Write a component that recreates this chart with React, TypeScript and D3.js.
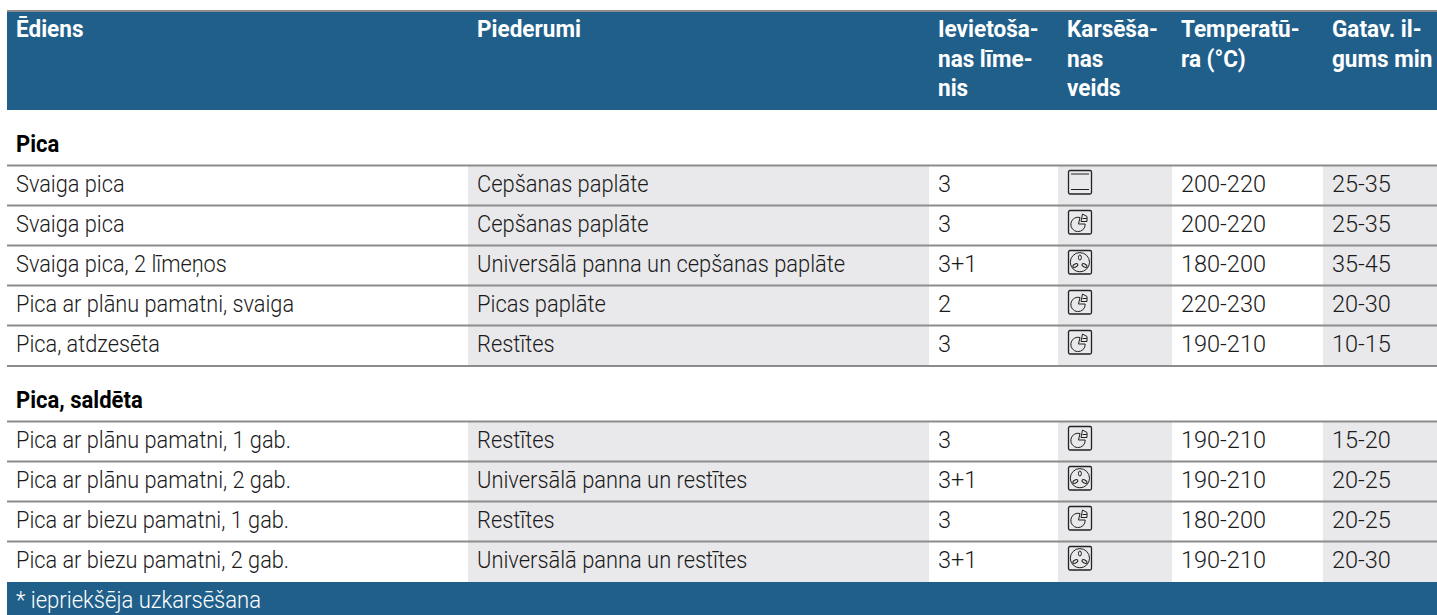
import React from "react";
import * as d3 from "d3";

const WIDTH = 1437;
const HEIGHT = 615;
const BLUE = "#215f8b";
const GREY = "#e9e9eb";
const RULE = "#8c8c8c";
const FONT = "Roboto, 'Liberation Sans', sans-serif";

const columns = ["dish", "accessory", "level", "mode", "temp", "time"];
const columnHeaders = [
  ["Ēdiens"],
  ["Piederumi"],
  ["Ievietoša-", "nas līme-", "nis"],
  ["Karsēša-", "nas", "veids"],
  ["Temperatū-", "ra (°C)"],
  ["Gatav. il-", "gums min"],
];

const group1Title = "Pica";
const group1Dishes = [
  "Svaiga pica",
  "Svaiga pica",
  "Svaiga pica, 2 līmeņos",
  "Pica ar plānu pamatni, svaiga",
  "Pica, atdzesēta",
];
const group1Accessories = [
  "Cepšanas paplāte",
  "Cepšanas paplāte",
  "Universālā panna un cepšanas paplāte",
  "Picas paplāte",
  "Restītes",
];
const group1Levels = ["3", "3", "3+1", "2", "3"];
const group1Modes = ["bottom", "pizza", "fan", "pizza", "pizza"];
const group1Temps = ["200-220", "200-220", "180-200", "220-230", "190-210"];
const group1Times = ["25-35", "25-35", "35-45", "20-30", "10-15"];

const group2Title = "Pica, saldēta";
const group2Dishes = [
  "Pica ar plānu pamatni, 1 gab.",
  "Pica ar plānu pamatni, 2 gab.",
  "Pica ar biezu pamatni, 1 gab.",
  "Pica ar biezu pamatni, 2 gab.",
];
const group2Accessories = [
  "Restītes",
  "Universālā panna un restītes",
  "Restītes",
  "Universālā panna un restītes",
];
const group2Levels = ["3", "3+1", "3", "3+1"];
const group2Modes = ["pizza", "fan", "pizza", "fan"];
const group2Temps = ["190-210", "190-210", "180-200", "190-210"];
const group2Times = ["15-20", "20-25", "20-25", "20-30"];

const footnote = "* iepriekšēja uzkarsēšana";

// left edge of each column, last one is the page edge
const colEdge = d3
  .scaleOrdinal<string, number>()
  .domain(columns)
  .range([7, 468, 929, 1058, 1172, 1323]);
const colRight = d3
  .scaleOrdinal<string, number>()
  .domain(columns)
  .range([468, 929, 1058, 1172, 1323, 1437]);

const rows1 = d3.scaleBand<number>().domain(d3.range(5)).range([166, 366]);
const rows2 = d3.scaleBand<number>().domain(d3.range(4)).range([422, 582]);

// no condensed font here, so text gets squeezed horizontally
const Label = ({
  x,
  y,
  bold,
  squeeze = 0.89,
  fill = "#1a1a1a",
  children,
}: {
  x: number;
  y: number;
  bold?: boolean;
  squeeze?: number;
  fill?: string;
  children: React.ReactNode;
}) => (
  <text
    transform={`translate(${x},${y}) scale(${squeeze},1)`}
    fill={fill}
    style={{ fontFamily: FONT, fontSize: 24.5, fontWeight: bold ? 700 : 300 }}
  >
    {children}
  </text>
);

const ModeIcon = ({ kind, x, y }: { kind: string; x: number; y: number }) => (
  <g transform={`translate(${x},${y})`} fill="none" stroke="#222" strokeWidth={1}>
    <rect x={0.5} y={0.5} width={23} height={23.5} rx={1.5} strokeWidth={1.3} />
    {kind === "bottom" && (
      <>
        <line x1={3} x2={21} y1={4} y2={4} />
        <line x1={3} x2={21} y1={19.5} y2={19.5} />
      </>
    )}
    {kind === "pizza" && (
      <>
        <path d="M12 7.5 A7.2 7.2 0 1 0 17.2 14 L10.5 14 Z" />
        <path d="M14.5 4 L19 6.5 L19 11.5 L13 11.5 Z" />
        <line x1={14.5} x2={19} y1={8.5} y2={8.5} />
      </>
    )}
    {kind === "fan" && (
      <>
        <circle cx={11.9} cy={12.2} r={9.6} />
        <ellipse cx={11.9} cy={7.5} rx={1.5} ry={2.5} />
        <ellipse cx={7.3} cy={15.5} rx={2.7} ry={1.5} transform="rotate(-30 7.3 15.5)" />
        <ellipse cx={16.5} cy={15.5} rx={2.7} ry={1.5} transform="rotate(30 16.5 15.5)" />
      </>
    )}
  </g>
);

const Group = ({
  title,
  scale,
  dishes,
  accessories,
  levels,
  modes,
  temps,
  times,
}: {
  title: string;
  scale: d3.ScaleBand<number>;
  dishes: string[];
  accessories: string[];
  levels: string[];
  modes: string[];
  temps: string[];
  times: string[];
}) => {
  const [top, bottom] = scale.range();
  const texts: [string, string[], number][] = [
    ["dish", dishes, 0.888],
    ["accessory", accessories, 0.893],
    ["level", levels, 0.96],
    ["temp", temps, 0.96],
    ["time", times, 0.96],
  ];
  return (
    <g>
      {["accessory", "mode", "time"].map((c) => (
        <rect
          key={c}
          x={colEdge(c)}
          y={top}
          width={colRight(c) - colEdge(c)}
          height={bottom - top}
          fill={GREY}
        />
      ))}
      <Label x={16} y={top - 14} bold squeeze={0.9} fill="#000">
        {title}
      </Label>
      {scale.domain().map((i) => (
        <line
          key={i}
          x1={7}
          x2={WIDTH}
          y1={(scale(i) ?? 0) - 0.5}
          y2={(scale(i) ?? 0) - 0.5}
          stroke={RULE}
          strokeWidth={2}
        />
      ))}
      {texts.map(([c, values, squeeze]) =>
        values.map((v, i) => (
          <Label
            key={c + i}
            x={colEdge(c) + 9}
            y={(scale(i) ?? 0) + 26}
            squeeze={squeeze}
          >
            {v}
          </Label>
        ))
      )}
      {modes.map((m, i) => (
        <ModeIcon key={i} kind={m} x={colEdge("mode") + 10} y={(scale(i) ?? 0) + 4} />
      ))}
    </g>
  );
};

export default function App() {
  return (
    <svg
      width={WIDTH}
      height={HEIGHT}
      style={{ position: "absolute", left: 0, top: 0, background: "#fff" }}
    >
      <rect x={7} y={11} width={WIDTH - 7} height={99} fill={BLUE} />
      <line x1={7} x2={WIDTH} y1={11} y2={11} stroke={RULE} strokeWidth={2} />
      {columnHeaders.map((lines, i) =>
        lines.map((l, j) => (
          <Label
            key={i + "-" + j}
            x={colEdge(columns[i]) + 9}
            y={37 + j * 29.5}
            bold
            squeeze={0.92}
            fill="#fff"
          >
            {l}
          </Label>
        ))
      )}
      <Group
        title={group1Title}
        scale={rows1}
        dishes={group1Dishes}
        accessories={group1Accessories}
        levels={group1Levels}
        modes={group1Modes}
        temps={group1Temps}
        times={group1Times}
      />
      <line x1={7} x2={WIDTH} y1={366} y2={366} stroke={RULE} strokeWidth={2} />
      <Group
        title={group2Title}
        scale={rows2}
        dishes={group2Dishes}
        accessories={group2Accessories}
        levels={group2Levels}
        modes={group2Modes}
        temps={group2Temps}
        times={group2Times}
      />
      <rect x={7} y={582} width={WIDTH - 7} height={33} fill={BLUE} />
      <Label x={16} y={608} squeeze={0.9} fill="#fff">
        {footnote}
      </Label>
    </svg>
  );
}
